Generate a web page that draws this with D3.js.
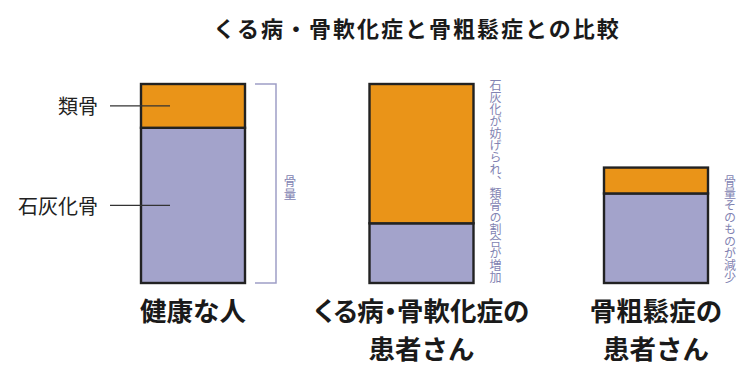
<!DOCTYPE html>
<html lang="ja">
<head>
<meta charset="utf-8">
<script src="https://cdn.jsdelivr.net/npm/d3@7"></script>
<style>
  html, body { margin: 0; padding: 0; background: #fff; }
  svg { display: block; font-family: "Noto Sans CJK JP", "Noto Sans", sans-serif; }
  .vtext { writing-mode: vertical-rl; text-orientation: upright; }
</style>
</head>
<body>
<svg id="chart" width="750" height="371"></svg>
<script>
// Bone composition per group (healthy total bone mass = 100)
const categories = ["健康な人", "くる病・骨軟化症の患者さん", "骨粗鬆症の患者さん"];
const categoryLines = [["健康な人"], ["くる病・骨軟化症の", "患者さん"], ["骨粗鬆症の", "患者さん"]];
const calcifiedBone = [78, 30, 45];   // 石灰化骨
const osteoid = [22, 70, 13];         // 類骨
const notes = [null, "石灰化が妨げられ、類骨の割合が増加", "骨量そのものが減少"];
const title = "くる病・骨軟化症と骨粗鬆症との比較";
const seriesNames = ["石灰化骨", "類骨"];
const boneMassLabel = "骨量";

const colors = { calcified: "#a3a3cb", osteoid: "#ea9418", outline: "#222", note: "#8283b2" };

const svg = d3.select("#chart");

const rows = categories.map((c, i) => ({ category: c, calcified: calcifiedBone[i], osteoid: osteoid[i] }));
const stacked = d3.stack().keys(["calcified", "osteoid"])(rows);

const x = d3.scaleOrdinal().domain(categories).range([193, 421.5, 656]);
const barWidth = 104;
const y = d3.scaleLinear().domain([0, 100]).range([283, 84]);

// Title
svg.append("text")
  .attr("x", 417).attr("y", 26.5)
  .attr("text-anchor", "middle").attr("dominant-baseline", "central")
  .attr("font-size", 22).attr("font-weight", 700).attr("letter-spacing", 2)
  .attr("fill", "#1a1a1a")
  .text(title);

// Stacked bars
const layers = svg.append("g").selectAll("g")
  .data(stacked).join("g")
  .attr("fill", d => colors[d.key]);

layers.selectAll("rect")
  .data(d => d)
  .join("rect")
  .attr("x", d => x(d.data.category) - barWidth / 2)
  .attr("width", barWidth)
  .attr("y", d => y(d[1]))
  .attr("height", d => y(d[0]) - y(d[1]))
  .attr("stroke", colors.outline)
  .attr("stroke-width", 2.4);

// Leader labels on the first bar
const first = rows[0];
const leaders = [
  { name: seriesNames[1], y: y(first.calcified + first.osteoid / 2) },
  { name: seriesNames[0], y: y(first.calcified / 2) }
];
const lg = svg.append("g");
leaders.forEach(l => {
  lg.append("line")
    .attr("x1", 110).attr("x2", x(categories[0]) - 23)
    .attr("y1", l.y).attr("y2", l.y)
    .attr("stroke", "#333").attr("stroke-width", 1.4);
  lg.append("text")
    .attr("x", 98).attr("y", l.y)
    .attr("text-anchor", "end").attr("dominant-baseline", "central")
    .attr("font-size", 20).attr("fill", "#222")
    .text(l.name);
});

// Bone-mass bracket beside the first bar
const bx = x(categories[0]) + barWidth / 2 + 10;
const total0 = first.calcified + first.osteoid;
svg.append("path")
  .attr("d", `M${bx},${y(total0)}H${bx + 21}V${y(0)}H${bx}`)
  .attr("fill", "none").attr("stroke", "#9e9ec6").attr("stroke-width", 1.5);
svg.append("text")
  .attr("class", "vtext")
  .attr("x", bx + 35).attr("y", (y(total0) + y(0)) / 2 + 4)
  .attr("text-anchor", "middle")
  .attr("font-size", 12.5).attr("fill", colors.note)
  .text(boneMassLabel);

// Vertical notes beside the other bars, ending at the baseline
rows.forEach((r, i) => {
  if (!notes[i]) return;
  svg.append("text")
    .attr("class", "vtext")
    .attr("x", x(r.category) + barWidth / 2 + 22).attr("y", y(0))
    .attr("text-anchor", "end")
    .attr("font-size", 12).attr("fill", colors.note)
    .text(notes[i]);
});

// Category labels
categoryLines.forEach((lines, i) => {
  lines.forEach((line, j) => {
    svg.append("text")
      .attr("x", x(categories[i]))
      .attr("y", 309 + j * 38.5)
      .attr("text-anchor", "middle").attr("dominant-baseline", "central")
      .attr("font-size", 26.5).attr("font-weight", 700).attr("fill", "#1a1a1a")
      .attr("style", i === 1 && j === 0 ? "font-feature-settings: 'palt';" : null)
      .text(line);
  });
});
</script>
</body>
</html>
